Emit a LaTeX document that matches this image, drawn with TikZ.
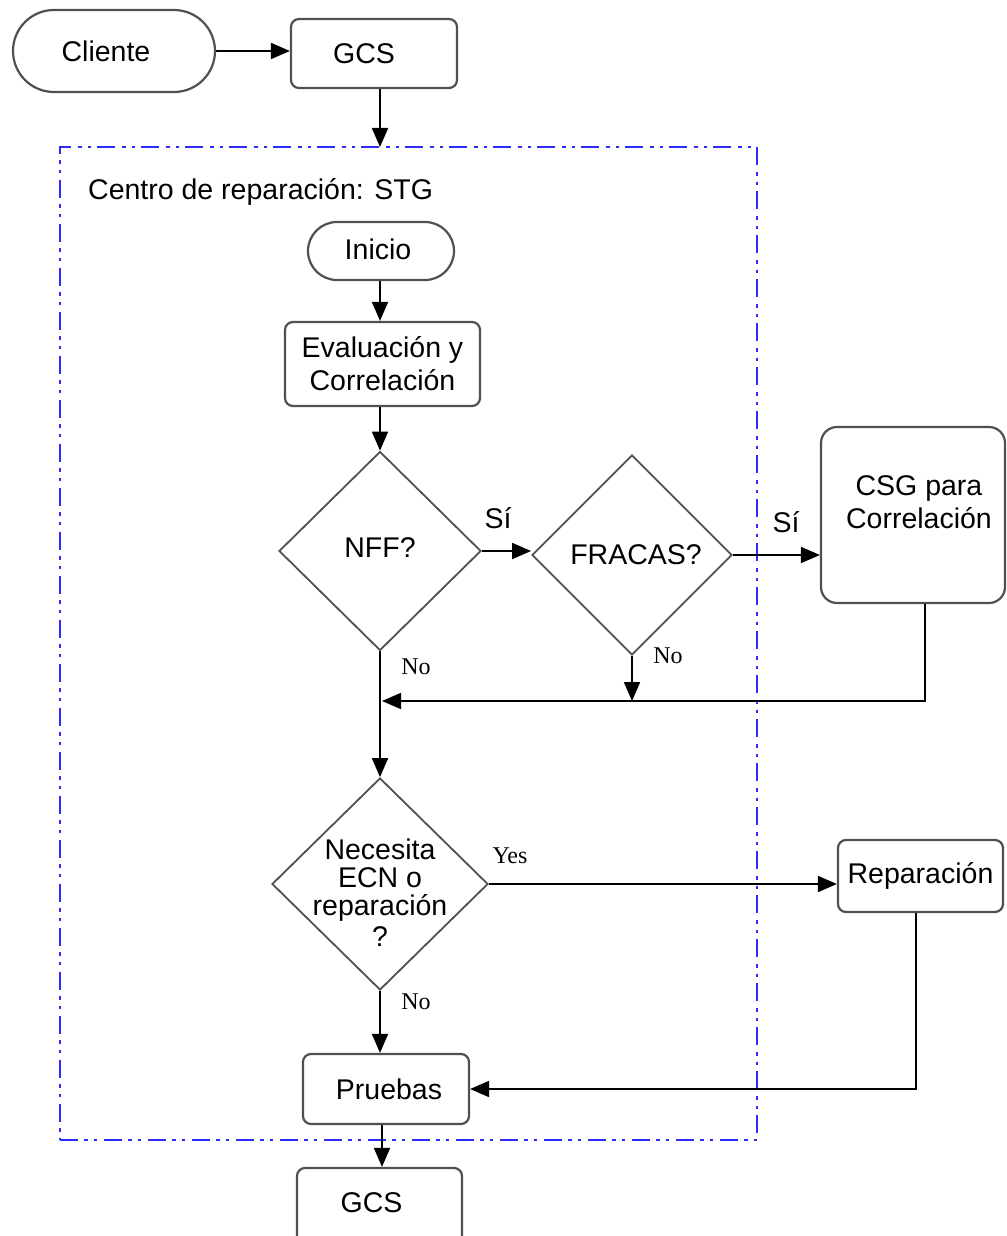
\documentclass[tikz,border=0pt]{standalone}
\usepackage{fontspec}
\setmainfont{Liberation Sans}
\newfontfamily\serifflag{Liberation Serif}
\usetikzlibrary{shapes.geometric,arrows.meta}
\definecolor{edgegray}{RGB}{80,80,80}
\definecolor{framblue}{RGB}{45,45,250}
\begin{document}
\begin{tikzpicture}[x=1pt,y=-1pt,
  txt/.style={font=\fontsize{28.5}{33}\selectfont, align=center},
  rbox/.style={draw=edgegray, line width=2.2pt, rounded corners=8pt, inner sep=0pt, rectangle, txt},
  stadium/.style={rbox},
  decision/.style={draw=edgegray, line width=1.8pt, diamond, inner sep=0pt, txt},
  arr/.style={draw=black, line width=1.8pt, -{Triangle[length=19pt,width=16pt]}},
  conn/.style={draw=black, line width=1.8pt},
  flag/.style={font=\serifflag\fontsize{24}{26}\selectfont, inner sep=0pt},
  siflag/.style={font=\fontsize{28.5}{30}\selectfont, inner sep=0pt},
  frame/.style={draw=framblue, line width=2.5pt, dash pattern=on 18pt off 6pt on 3.5pt off 6pt on 3.5pt off 7pt, rectangle, inner sep=0pt}]
\clip (0,0) rectangle (1006,1236);

% repair-centre frame
\node[frame, minimum width=697pt, minimum height=993pt] (stg) at (408.5,643.5) {};
\node[txt, anchor=west, inner sep=0pt] (stgtitle) at (88,192) {Centro de reparación: STG};

% top row
\node[stadium, rounded corners=41pt, minimum width=202pt, minimum height=82pt,
      label={[txt, xshift=-8pt]center:Cliente}] (cliente) at (114,51) {};
\node[rbox, minimum width=166pt, minimum height=69pt,
      label={[txt, xshift=-10pt]center:GCS}] (gcs1) at (374,53.5) {};
\coordinate (stgtop) at (380,147);

% inside the centre
\node[stadium, rounded corners=29pt, minimum width=146pt, minimum height=58pt,
      label={[txt, xshift=-3pt, yshift=2pt]center:Inicio}] (inicio) at (381,251) {};
\node[rbox, minimum width=195pt, minimum height=84pt] (eval) at (382.5,364) {Evaluación y\\Correlación};
\node[decision, minimum width=202pt, minimum height=199pt,
      label={[txt, yshift=3pt]center:NFF?}] (nff) at (380,551) {};
\node[decision, minimum width=200pt, minimum height=200pt,
      label={[txt, xshift=4pt]center:FRACAS?}] (fracas) at (632,555) {};
\node[rbox, rounded corners=16pt, minimum width=184pt, minimum height=176pt] (csg) at (913,515) {};
\node[txt, inner sep=0pt] (csgtext) at (919,502) {CSG para\\Correlación};
\coordinate (merge) at (380,701);

\node[decision, minimum width=216pt, minimum height=212pt] (nec) at (380,884) {};
\node[txt, font=\fontsize{28.5}{28}\selectfont, inner sep=0pt] (nectext) at (380,893) {Necesita\\ECN o\\reparación\\[3pt]?};
\node[rbox, minimum width=165pt, minimum height=72pt] (rep) at (920.5,876) {Reparación};
\node[rbox, minimum width=166pt, minimum height=70pt,
      label={[txt, xshift=3pt]center:Pruebas}] (pruebas) at (386,1089) {};
\node[rbox, minimum width=165pt, minimum height=76pt,
      label={[txt, xshift=-8pt, yshift=3pt]center:GCS}] (gcs2) at (379.5,1206) {};

% connectors
\draw[arr] (cliente.east) -- (cliente.east -| gcs1.west);
\draw[arr] (gcs1.south -| stgtop) -- (stgtop);
\draw[arr] (inicio.south -| 380,0) -- (eval.north -| 380,0);
\draw[arr] (eval.south -| nff.north) -- (nff.north);
\draw[arr] (nff.east) -- (nff.east -| fracas.west);
\draw[arr] (fracas.east) -- (fracas.east -| csg.west);
\draw[arr] (csg.south -| 925,0) |- ([xshift=2pt]merge);
\draw[arr] (fracas.south) -- (fracas.south |- merge);
\draw[arr] (nff.south) -- (nec.north);
\draw[arr] (nec.east) -- (nec.east -| rep.west);
\draw[arr] (rep.south -| 916,0) |- (pruebas.east);
\draw[arr] (nec.south) -- (nec.south |- pruebas.north);
\draw[arr] (pruebas.south -| 382,0) -- (gcs2.north -| 382,0);

% branch labels
\node[siflag] (si1) at (498,518) {Sí};
\node[siflag] (si2) at (786,522) {Sí};
\node[flag] (no1) at (416,667) {No};
\node[flag] (no2) at (668,656) {No};
\node[flag] (yes) at (510,856) {Yes};
\node[flag] (no3) at (416,1002) {No};
\end{tikzpicture}
\end{document}
